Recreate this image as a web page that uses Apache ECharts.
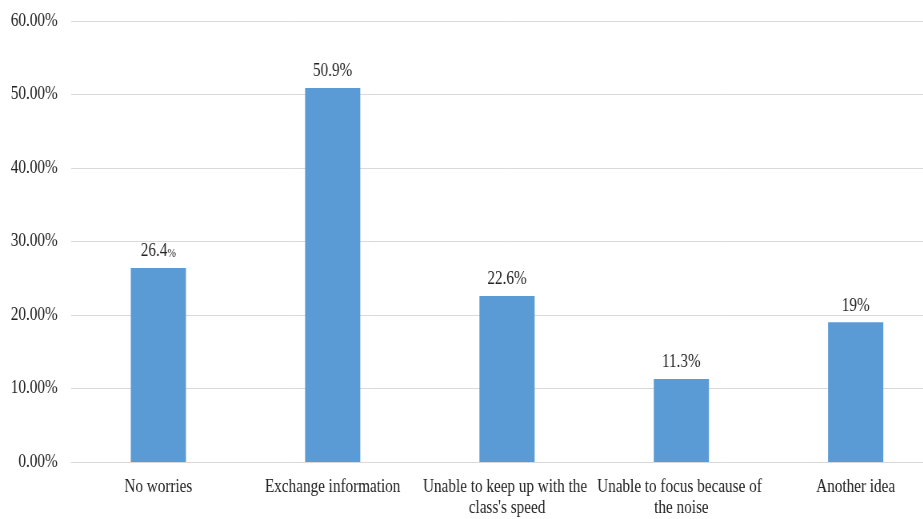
<!DOCTYPE html>
<html>
<head>
<meta charset="utf-8">
<script src="https://cdn.jsdelivr.net/npm/echarts@6/dist/echarts.min.js"></script>
<style>
  html, body { margin: 0; padding: 0; background: #fff; overflow: hidden; width: 923px; height: 519px; }
  /* narrow serif look: the chart is laid out wide and squeezed horizontally */
  #chart { width: 1180px; height: 519px; transform: scaleX(0.8); transform-origin: 0 0; }
</style>
</head>
<body>
<div id="chart"></div>
<script>
// Survey responses: share of students per answer
const categories = [
  'No worries',
  'Exchange information',
  "Unable to keep up with the class's speed",
  'Unable to focus because of the noise',
  'Another idea'
];
const shares = [26.4, 50.9, 22.6, 11.3, 19];
const shareLabels = ['26.4', '50.9%', '22.6%', '11.3%', '19%'];
const yTicks = [0, 10, 20, 30, 40, 50, 60];

const FONT = '"Liberation Serif", "Times New Roman", serif';
const TEXT = '#222';

const chart = echarts.init(document.getElementById('chart'));
chart.setOption({
  animation: false,
  grid: { left: 89, right: 0, top: 21, bottom: 55, containLabel: false },
  xAxis: {
    type: 'category',
    data: categories,
    axisLine: { lineStyle: { color: '#d9d9d9', width: 1 } },
    axisTick: { show: false },
    axisLabel: {
      interval: 0,
      margin: 15,
      width: 215,
      overflow: 'break',
      lineHeight: 21,
      fontFamily: FONT,
      fontSize: 19,
      color: TEXT
    }
  },
  yAxis: {
    type: 'value',
    min: yTicks[0],
    max: yTicks[yTicks.length - 1],
    interval: 10,
    axisLine: { show: false },
    axisTick: { show: false },
    splitLine: { lineStyle: { color: '#d9d9d9', width: 1 } },
    axisLabel: {
      margin: 17,
      fontFamily: FONT,
      fontSize: 19,
      color: TEXT,
      formatter: v => v.toFixed(2) + '%'
    }
  },
  series: [{
    type: 'bar',
    data: shares,
    barWidth: 69,
    itemStyle: { color: '#5b9bd5' },
    label: {
      show: true,
      position: 'top',
      distance: 7,
      fontFamily: FONT,
      fontSize: 19,
      color: TEXT,
      formatter: p => p.dataIndex === 0
        ? shareLabels[0] + '{small|%}'
        : shareLabels[p.dataIndex],
      rich: {
        small: { fontFamily: FONT, fontSize: 13, color: TEXT, verticalAlign: 'bottom', padding: [0, 0, 1, 0] }
      }
    }
  }]
});
</script>
</body>
</html>
